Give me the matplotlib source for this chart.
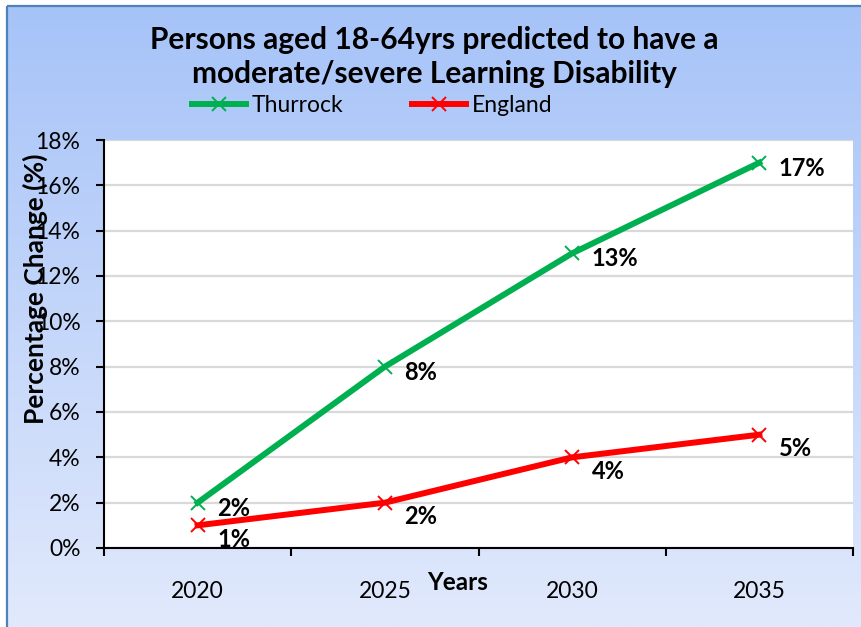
import numpy as np
import matplotlib
matplotlib.use("Agg")
import matplotlib.pyplot as plt
from matplotlib.lines import Line2D
from matplotlib.patches import Rectangle
from matplotlib.colors import LinearSegmentedColormap
from matplotlib.ticker import PercentFormatter

plt.rcParams['font.family'] = ['Lato', 'DejaVu Sans']

# data
years = ["2020", "2025", "2030", "2035"]
thurrock = [2, 8, 13, 17]
england = [1, 2, 4, 5]
series_names = ["Thurrock", "England"]
green = "#00b050"
red = "#ff0000"

W, H = 861, 627
fig = plt.figure(figsize=(W / 100, H / 100), dpi=100)
fig.patch.set_facecolor("white")

# gradient background with blue frame
bg = fig.add_axes([0, 0, 1, 1], zorder=-5)
bg.set_xlim(0, W)
bg.set_ylim(H, 0)
bg.axis("off")
cmap = LinearSegmentedColormap.from_list("bg", ["#a6c3f8", "#e1e9fc"])
grad = np.linspace(0, 1, 256).reshape(-1, 1)
bg.imshow(grad, cmap=cmap, aspect="auto", extent=(7, W, H, 6), zorder=0)
bg.add_patch(Rectangle((7, 6), W, H, fill=False, edgecolor="#4f81bd", lw=1.6, zorder=1))

# plot area
ax = fig.add_axes([104 / W, 1 - 548 / H, (853 - 104) / W, (548 - 140) / H])
ax.set_facecolor("white")
x = np.arange(len(years))
ax.set_xlim(-0.5, len(years) - 0.5)
ax.set_ylim(0, 18)

ax.yaxis.set_major_locator(plt.MultipleLocator(2))
ax.yaxis.set_major_formatter(PercentFormatter(decimals=0))
ax.grid(axis="y", color="#d9d9d9", lw=1.6)
ax.set_axisbelow(True)

ax.set_xticks(x)
ax.set_xticklabels(years)
ax.set_xticks(np.arange(len(years) + 1) - 0.5, minor=True)
ax.tick_params(axis="x", which="major", length=0, pad=24, labelsize=16.5)
ax.tick_params(axis="x", which="minor", length=6, width=1.5, direction="out")
ax.tick_params(axis="y", length=6, width=1.5, direction="out", pad=11, labelsize=16.5)

for s in ["top", "right"]:
    ax.spines[s].set_visible(False)
for s in ["left", "bottom"]:
    ax.spines[s].set_linewidth(1.5)
    ax.spines[s].set_color("black")

ax.plot(x, thurrock, color=green, lw=4.3, marker="x", ms=10, mew=1.4, clip_on=False, zorder=3)
ax.plot(x, england, color=red, lw=4.3, marker="x", ms=10, mew=1.4, clip_on=False, zorder=3)

for xi, v in zip(x, thurrock):
    ax.annotate(f"{v}%", (xi, v), xytext=(14, -4), textcoords="offset points",
                ha="left", va="center", fontsize=17, fontweight="bold")
for xi, v in zip(x, england):
    ax.annotate(f"{v}%", (xi, v), xytext=(14, -10), textcoords="offset points",
                ha="left", va="center", fontsize=17, fontweight="bold")

# titles and labels
fig.text(434 / W, 1 - 40 / H, "Persons aged 18-64yrs predicted to have a",
         ha="center", va="center", fontsize=21.5, fontweight="bold")
fig.text(434 / W, 1 - 74 / H, "moderate/severe Learning Disability",
         ha="center", va="center", fontsize=21.5, fontweight="bold")
fig.text(35 / W, 1 - 289 / H, "Percentage Change (%)", rotation=90,
         ha="center", va="center", fontsize=19, fontweight="bold")
fig.text(458 / W, 1 - 582 / H, "Years", ha="center", va="center",
         fontsize=17.5, fontweight="bold")

handles = [Line2D([], [], color=green, lw=4.3, marker="x", ms=10, mew=1.4),
           Line2D([], [], color=red, lw=4.3, marker="x", ms=10, mew=1.4)]
fig.legend(handles, series_names, loc="center", bbox_to_anchor=(372 / W, 1 - 106 / H),
           ncol=2, frameon=False, fontsize=16.5, handlelength=2.35, columnspacing=3.0,
           handletextpad=0.25, borderpad=0, borderaxespad=0)

fig.savefig("out.png", dpi=100)
